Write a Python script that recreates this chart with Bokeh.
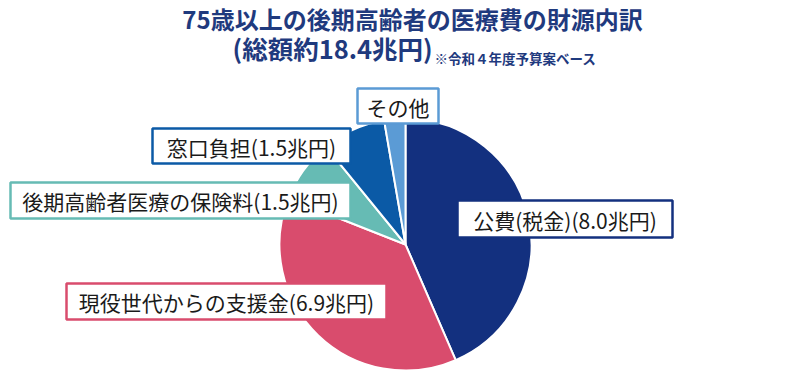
import numpy as np
from bokeh.plotting import figure
from bokeh.models import Range1d
from bokeh.core.properties import value
from bokeh.embed import file_html
from bokeh.resources import INLINE

# ---- data ----
categories = ["公費(税金)", "現役世代からの支援金", "後期高齢者医療の保険料", "窓口負担", "その他"]
amounts = [8.0, 6.9, 1.5, 1.5, 0.5]
amount_texts = ["(8.0兆円)", "(6.9兆円)", "(1.5兆円)", "(1.5兆円)", ""]
colors = ["#13307f", "#d94c6d", "#66bbb4", "#0b5aa6", "#5b9bd5"]
title_line1 = "75歳以上の後期高齢者の医療費の財源内訳"
title_line2 = "(総額約18.4兆円)"
title_note = "※令和４年度予算案ベース"

W, H = 800, 377
FONT = "Noto Sans CJK JP"

def Y(v):
    return H - v

p = figure(width=W, height=H, x_range=Range1d(0, W), y_range=Range1d(0, H),
           output_backend="svg", toolbar_location=None, min_border=0)
p.axis.visible = False
p.grid.visible = False
p.outline_line_color = None
p.background_fill_color = "white"
p.border_fill_color = "white"

# ---- pie ----
cx, cy, r = 405, 244, 126
total = sum(amounts)
cum = np.concatenate([[0], np.cumsum(amounts)])
starts = np.pi / 2 - 2 * np.pi * cum[:-1] / total
ends = np.pi / 2 - 2 * np.pi * cum[1:] / total
p.wedge(x=cx, y=Y(cy), radius=r, start_angle=starts, end_angle=ends,
        direction="clock", fill_color=colors, line_color="white", line_width=2)

# ---- label boxes (left, top, right, bottom in px) ----
boxes = [
    (457, 200, 672, 237),
    (66, 283, 386, 319),
    (10, 182, 350, 218),
    (152, 128, 350, 163),
    (357, 88, 438, 123),
]
for (l, t, rr, b), cat, amt, col in zip(boxes, categories, amount_texts, colors):
    p.quad(left=l, right=rr, top=Y(t), bottom=Y(b), fill_color="white",
           line_color=col, line_width=2.5)
    p.text(x=[(l + rr) / 2], y=[Y((t + b) / 2 + 0.5)], text=[cat + amt],
           text_font=value(FONT), text_font_size="21px", text_color="#1a1a1a",
           text_align="center", text_baseline="middle")

# ---- title ----
tcol = "#1f3a7e"
p.text(x=[412], y=[Y(18)], text=[title_line1], text_font=value(FONT),
       text_font_size="24px", text_font_style="bold", text_color=tcol,
       text_align="center", text_baseline="middle")
p.text(x=[232], y=[Y(47)], text=[title_line2], text_font=value(FONT),
       text_font_size="25.5px", text_font_style="bold", text_color=tcol,
       text_align="left", text_baseline="middle")
p.text(x=[434], y=[Y(57)], text=[title_note], text_font=value(FONT),
       text_font_size="13.5px", text_font_style="bold", text_color=tcol,
       text_align="left", text_baseline="alphabetic")

open("out.html", "w").write(file_html(p, INLINE))
